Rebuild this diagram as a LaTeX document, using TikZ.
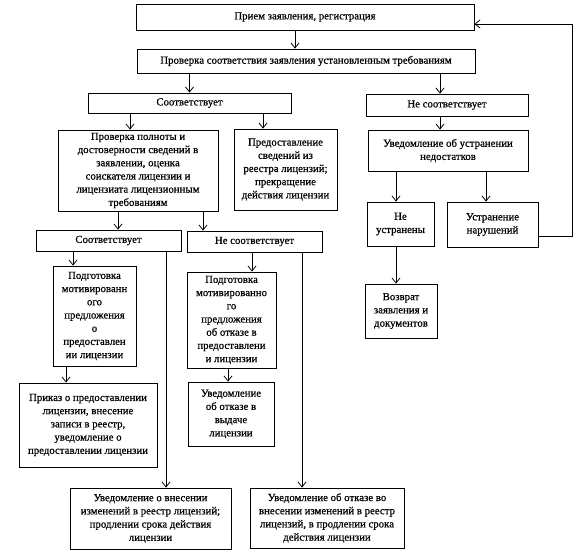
\documentclass[tikz,border=0pt]{standalone}
\usepackage{fontspec}
\setmainfont{Liberation Serif}[FakeBold=0.6]
\usetikzlibrary{arrows.meta}
\begin{document}
\begin{tikzpicture}[x=1pt,y=-1pt,
  box/.style={draw, line width=0.8pt, align=center, inner sep=1pt,
    font=\fontsize{10.8}{13.2}\selectfont},
  arr/.style={-{Straight Barb[length=5pt,width=8pt]}, line width=0.8pt},
  ln/.style={line width=0.8pt}]
\useasboundingbox (0,0) rectangle (579,553);
\node[box, minimum width=338pt, minimum height=26pt] (b1) at (305,17) {Прием заявления, регистрация};
\node[box, minimum width=338pt, minimum height=24pt] (b2) at (306,61) {Проверка соответствия заявления установленным требованиям};
\node[box, minimum width=203pt, minimum height=20pt] (A) at (189.5,103) {Соответствует};
\node[box, minimum width=162pt, minimum height=22pt] (B) at (447,105) {Не соответствует};
\node[box, minimum width=160pt, minimum height=81pt] (C) at (138,170.5) {Проверка полноты и\\достоверности сведений в\\заявлении, оценка\\соискателя лицензии и\\лицензиата лицензионным\\требованиям};
\node[box, minimum width=103pt, minimum height=81pt] (D) at (285.5,169.5) {Предоставление\\сведений из\\реестра лицензий;\\прекращение\\действия лицензии};
\node[box, minimum width=160pt, minimum height=41pt] (E) at (448,150.5) {Уведомление об устранении\\недостатков};
\node[box, minimum width=67pt, minimum height=44pt] (F) at (400.5,224) {Не\\устранены};
\node[box, minimum width=91pt, minimum height=45pt] (G) at (492.5,224.5) {Устранение\\нарушений};
\node[box, minimum width=72pt, minimum height=54pt] (H) at (401,311) {Возврат\\заявления и\\документов};
\node[box, minimum width=145pt, minimum height=21pt] (I) at (108.5,240.5) {Соответствует};
\node[box, minimum width=135pt, minimum height=21pt] (J) at (254.5,241.5) {Не соответствует};
\node[box, minimum width=83pt, minimum height=100pt] (K) at (94.5,316) {Подготовка\\мотивированн\\ого\\предложения\\о\\предоставлен\\ии лицензии};
\node[box, minimum width=89pt, minimum height=96pt] (N) at (231.5,320) {Подготовка\\мотивированно\\го\\предложения\\об отказе в\\предоставлени\\и лицензии};
\node[box, minimum width=138pt, minimum height=84pt] (L) at (88,425) {Приказ о предоставлении\\лицензии, внесение\\записи в реестр,\\уведомление о\\предоставлении лицензии};
\node[box, minimum width=86pt, minimum height=64pt] (P) at (231,414) {Уведомление\\об отказе в\\выдаче\\лицензии};
\node[box, minimum width=161pt, minimum height=61pt] (M) at (150.5,518.5) {Уведомление о внесении\\изменений в реестр лицензий;\\продлении срока действия\\лицензии};
\node[box, minimum width=154pt, minimum height=60pt] (O) at (327,518) {Уведомление об отказе во\\внесении изменений в реестр\\лицензий, в продлении срока\\действия лицензии};
% connectors
\draw[arr] ([xshift=-10pt]b1.south) -- ([xshift=-10pt]b1.south |- b2.north);
\draw[arr] (b2.south -| A.north) -- (A.north);
\draw[arr] ([xshift=-7pt]b2.south -| B.north) -- ([xshift=-7pt]B.north);
\draw[arr] ([xshift=-59.5pt]A.south) -- ([xshift=-59.5pt]A.south |- C.north);
\draw[arr] ([xshift=73.5pt]A.south) -- ([xshift=73.5pt]A.south |- D.north);
\draw[arr] ([xshift=-7pt]B.south) -- ([xshift=-7pt]B.south |- E.north);
\draw[arr] ([xshift=-52pt]E.south) -- ([xshift=-52pt]E.south |- F.north);
\draw[arr] ([xshift=38pt]E.south) -- ([xshift=38pt]E.south |- G.north);
\draw[arr] ([xshift=-4.5pt]F.south) -- ([xshift=-4.5pt]F.south |- H.north);
\coordinate (fb1) at (572,236);
\coordinate (fb2) at (572,24);
\draw[arr] (G.east |- fb1) -- (fb1) -- (fb2) -- (b1.east |- fb2);
\draw[arr] ([xshift=-20pt]C.south) -- ([xshift=-20pt]C.south |- I.north);
\draw[arr] ([xshift=65pt]C.south) -- ([xshift=65pt]C.south |- J.north);
\draw[arr] ([xshift=-35.5pt]I.south) -- ([xshift=-35.5pt]I.south |- K.north);
\draw[arr] ([xshift=57.5pt]I.south) -- ([xshift=57.5pt]I.south |- M.north);
\draw[arr] ([xshift=-28.5pt]K.south) -- ([xshift=-28.5pt]K.south |- L.north);
\draw[arr] ([xshift=-2.5pt]J.south) -- ([xshift=-2.5pt]J.south |- N.north);
\draw[arr] ([xshift=47.5pt]J.south) -- ([xshift=47.5pt]J.south |- O.north);
\draw[arr] ([xshift=-3.5pt]N.south) -- ([xshift=-3.5pt]N.south |- P.north);
\end{tikzpicture}
\end{document}
